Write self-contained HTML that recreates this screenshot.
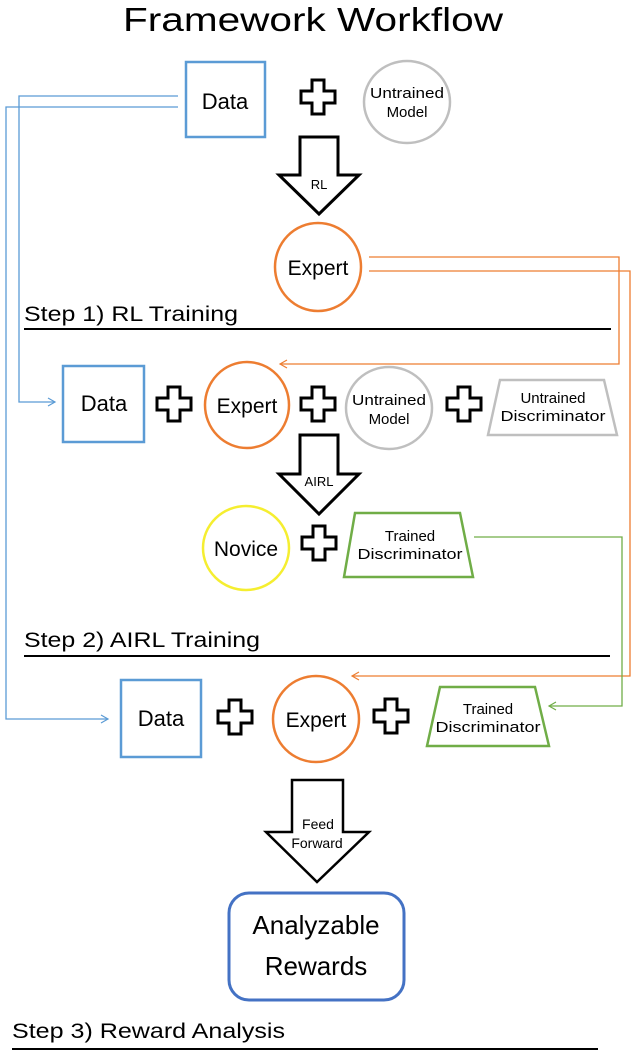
<!DOCTYPE html>
<html><head><meta charset="utf-8"><style>
html,body{margin:0;padding:0;background:#fff;}
svg{display:block;font-family:"Liberation Sans",sans-serif;}
</style></head><body>
<svg width="640" height="1057" viewBox="0 0 640 1057" xmlns="http://www.w3.org/2000/svg">
<defs>
<marker id="ab" markerWidth="10" markerHeight="10" refX="8" refY="5" orient="auto" markerUnits="userSpaceOnUse"><path d="M1,1 L8,5 L1,9" fill="none" stroke="#5b9bd5" stroke-width="1.2"/></marker>
<marker id="ao" markerWidth="10" markerHeight="10" refX="8" refY="5" orient="auto" markerUnits="userSpaceOnUse"><path d="M1,1 L8,5 L1,9" fill="none" stroke="#ed7d31" stroke-width="1.2"/></marker>
<marker id="ag" markerWidth="10" markerHeight="10" refX="8" refY="5" orient="auto" markerUnits="userSpaceOnUse"><path d="M1,1 L8,5 L1,9" fill="none" stroke="#70ad47" stroke-width="1.2"/></marker>
<g id="plus"><path d="M-6,-17 H6 V-6 H17 V6 H6 V17 H-6 V6 H-17 V-6 H-6 Z" fill="#fff" stroke="#000" stroke-width="3"/></g>
</defs>

<text x="313" y="31" font-size="33" text-anchor="middle" textLength="380" lengthAdjust="spacingAndGlyphs">Framework Workflow</text>

<polyline points="178,96 19,96 19,402 55,402" fill="none" stroke="#5b9bd5" stroke-width="1.3" marker-end="url(#ab)"/>
<polyline points="178,107 6,107 6,719 108,719" fill="none" stroke="#5b9bd5" stroke-width="1.3" marker-end="url(#ab)"/>
<polyline points="369,257 619,257 619,364 280,364" fill="none" stroke="#ed7d31" stroke-width="1.3" marker-end="url(#ao)"/>
<polyline points="369,271 630,271 630,676 352,676" fill="none" stroke="#ed7d31" stroke-width="1.3" marker-end="url(#ao)"/>
<polyline points="474,537 622,537 622,706 549,706" fill="none" stroke="#70ad47" stroke-width="1.3" marker-end="url(#ag)"/>

<rect x="186" y="62" width="79" height="75" fill="#fff" stroke="#5b9bd5" stroke-width="2.5"/>
<text x="225" y="109" font-size="22" text-anchor="middle">Data</text>
<use href="#plus" x="318" y="97"/>
<ellipse cx="407" cy="102" rx="43" ry="41" fill="#fff" stroke="#bfbfbf" stroke-width="2.5"/>
<text x="407" y="98" font-size="15" text-anchor="middle" textLength="74" lengthAdjust="spacingAndGlyphs">Untrained</text>
<text x="407" y="117" font-size="15" text-anchor="middle">Model</text>
<path d="M300,137 H338 V175 H359 L319,214 L279,175 H300 Z" fill="#fff" stroke="#000" stroke-width="3"/>
<text x="319" y="189" font-size="13" text-anchor="middle">RL</text>
<ellipse cx="318" cy="267" rx="43" ry="44" fill="#fff" stroke="#ed7d31" stroke-width="2.5"/>
<text x="318" y="275" font-size="21" text-anchor="middle">Expert</text>
<text x="24" y="321" font-size="21" textLength="214" lengthAdjust="spacingAndGlyphs">Step 1) RL Training</text>
<line x1="24" y1="329" x2="611" y2="329" stroke="#000" stroke-width="2"/>

<rect x="63" y="366" width="81" height="76" fill="#fff" stroke="#5b9bd5" stroke-width="2.5"/>
<text x="104" y="411" font-size="22" text-anchor="middle">Data</text>
<use href="#plus" x="174" y="404"/>
<ellipse cx="247" cy="405" rx="42" ry="43" fill="#fff" stroke="#ed7d31" stroke-width="2.5"/>
<text x="247" y="413" font-size="21" text-anchor="middle">Expert</text>
<use href="#plus" x="318" y="404"/>
<ellipse cx="389" cy="408" rx="43" ry="41" fill="#fff" stroke="#bfbfbf" stroke-width="2.5"/>
<text x="389" y="405" font-size="15" text-anchor="middle" textLength="74" lengthAdjust="spacingAndGlyphs">Untrained</text>
<text x="389" y="424" font-size="15" text-anchor="middle">Model</text>
<use href="#plus" x="464" y="404"/>
<path d="M500,380 H604 L617,435 H488 Z" fill="#fff" stroke="#bfbfbf" stroke-width="2.5"/>
<text x="553" y="403" font-size="15" text-anchor="middle">Untrained</text>
<text x="553" y="421" font-size="15" text-anchor="middle" textLength="105" lengthAdjust="spacingAndGlyphs">Discriminator</text>
<path d="M300,435 H338 V474 H359 L319,514 L279,474 H300 Z" fill="#fff" stroke="#000" stroke-width="3"/>
<text x="319" y="486" font-size="13" text-anchor="middle">AIRL</text>
<ellipse cx="246" cy="548" rx="43" ry="42" fill="#fff" stroke="#f5ee30" stroke-width="2.5"/>
<text x="246" y="556" font-size="21" text-anchor="middle">Novice</text>
<use href="#plus" x="319" y="543"/>
<path d="M355,513 H460 L473,577 H344 Z" fill="#fff" stroke="#70ad47" stroke-width="2.5"/>
<text x="410" y="541" font-size="15" text-anchor="middle">Trained</text>
<text x="410" y="559" font-size="15" text-anchor="middle" textLength="105" lengthAdjust="spacingAndGlyphs">Discriminator</text>
<text x="24" y="647" font-size="21" textLength="236" lengthAdjust="spacingAndGlyphs">Step 2) AIRL Training</text>
<line x1="24" y1="656" x2="610" y2="656" stroke="#000" stroke-width="2"/>

<rect x="121" y="680" width="80" height="77" fill="#fff" stroke="#5b9bd5" stroke-width="2.5"/>
<text x="161" y="726" font-size="22" text-anchor="middle">Data</text>
<use href="#plus" x="235" y="717"/>
<ellipse cx="316" cy="719" rx="43" ry="43" fill="#fff" stroke="#ed7d31" stroke-width="2.5"/>
<text x="316" y="727" font-size="21" text-anchor="middle">Expert</text>
<use href="#plus" x="391" y="716"/>
<path d="M440,687 H535 L549,746 H427 Z" fill="#fff" stroke="#70ad47" stroke-width="2.5"/>
<text x="488" y="714" font-size="15" text-anchor="middle">Trained</text>
<text x="488" y="732" font-size="15" text-anchor="middle" textLength="105" lengthAdjust="spacingAndGlyphs">Discriminator</text>
<path d="M292,780 H343 V832 H369 L317,882 L266,832 H292 Z" fill="#fff" stroke="#000" stroke-width="2.5"/>
<text x="318" y="829" font-size="14" text-anchor="middle">Feed</text>
<text x="317" y="848" font-size="14" text-anchor="middle">Forward</text>
<rect x="229" y="893" width="175" height="107" rx="20" fill="#fff" stroke="#4472c4" stroke-width="3"/>
<text x="316" y="934" font-size="26" text-anchor="middle">Analyzable</text>
<text x="316" y="975" font-size="26" text-anchor="middle">Rewards</text>
<text x="12" y="1038" font-size="21" textLength="273" lengthAdjust="spacingAndGlyphs">Step 3) Reward Analysis</text>
<line x1="12" y1="1049" x2="598" y2="1049" stroke="#000" stroke-width="2"/>
</svg>
</body></html>
